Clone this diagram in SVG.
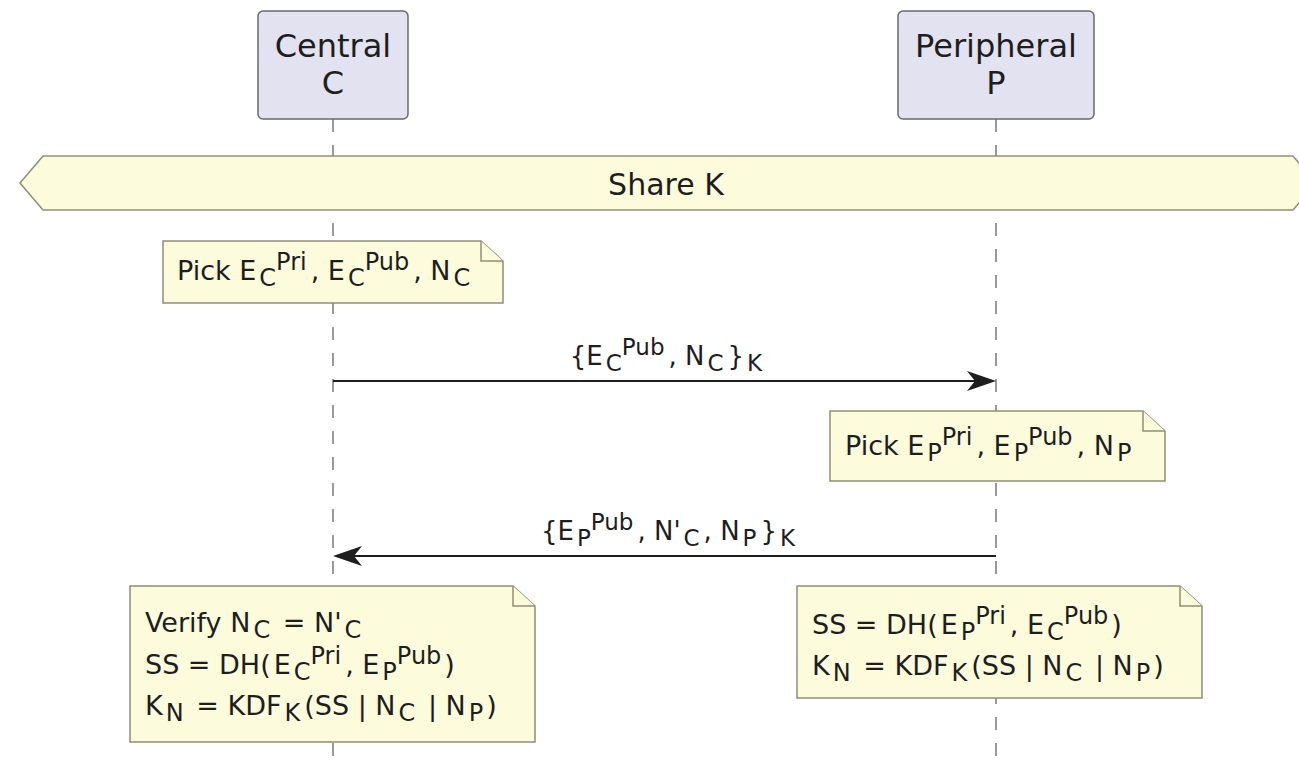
<svg xmlns="http://www.w3.org/2000/svg" width="1299" height="763" viewBox="0 0 1299 763">
  <style>
    text { font-family: "DejaVu Sans", "Liberation Sans", sans-serif; fill: #1e1e1e; }
    .part { fill: #e2e2f0; stroke: #6a6a6a; stroke-width: 1.5; }
    .ptxt { font-size: 32px; text-anchor: middle; }
    .life { stroke: #7a7a7a; stroke-width: 1.5; stroke-dasharray: 13 13; fill: none; }
    .note { fill: #fcfcdc; stroke: #8e8e74; stroke-width: 1.5; }
    .ntxt { font-size: 27px; }
    .s { font-size: 24px; }
    .ltxt { font-size: 26px; text-anchor: middle; }
    .ls { font-size: 23px; }
    .msg { stroke: #1e1e1e; stroke-width: 2; fill: none; }
    .head { fill: #1e1e1e; }
  </style>

  <!-- lifelines -->
  <g id="lifelines">
    <line class="life" x1="333" y1="119" x2="333" y2="763"/>
    <line class="life" x1="996" y1="119" x2="996" y2="763"/>
  </g>

  <!-- participants -->
  <g id="central">
    <rect class="part" x="258" y="11" width="150" height="108" rx="5"/>
    <text class="ptxt" x="333" y="57">Central</text>
    <text class="ptxt" x="333" y="94">C</text>
  </g>
  <g id="peripheral">
    <rect class="part" x="898" y="11" width="196" height="108" rx="5"/>
    <text class="ptxt" x="996" y="57">Peripheral</text>
    <text class="ptxt" x="996" y="94">P</text>
  </g>

  <!-- divider -->
  <g id="share-k">
    <polygon class="note" points="20,183 43,156 1293,156 1316,183 1293,210 43,210"/>
    <text x="666" y="195" style="font-size:30px" text-anchor="middle">Share K</text>
  </g>

  <!-- notes -->
  <g id="note-pick-c">
    <path class="note" d="M163,241 H481 L503,261 V303 H163 Z"/>
    <path class="note" d="M481,241 V261 H503"/>
    <text class="ntxt" x="177" y="280">Pick E<tspan class="s" dx="3" baseline-shift="-6">C</tspan><tspan class="s" baseline-shift="10">Pri</tspan><tspan dx="4">, E</tspan><tspan class="s" dx="3" baseline-shift="-6">C</tspan><tspan class="s" baseline-shift="10">Pub</tspan><tspan dx="4">, N</tspan><tspan class="s" dx="3" baseline-shift="-6">C</tspan></text>
  </g>

  <g id="note-pick-p">
    <path class="note" d="M830,411 H1143 L1165,431 V481 H830 Z"/>
    <path class="note" d="M1143,411 V431 H1165"/>
    <text class="ntxt" x="845" y="455">Pick E<tspan class="s" dx="3" baseline-shift="-6">P</tspan><tspan class="s" baseline-shift="10">Pri</tspan><tspan dx="4">, E</tspan><tspan class="s" dx="3" baseline-shift="-6">P</tspan><tspan class="s" baseline-shift="10">Pub</tspan><tspan dx="4">, N</tspan><tspan class="s" dx="3" baseline-shift="-6">P</tspan></text>
  </g>

  <g id="note-derive-c">
    <path class="note" d="M130,586 H513 L535,606 V742 H130 Z"/>
    <path class="note" d="M513,586 V606 H535"/>
    <text class="ntxt" x="145" y="632">Verify N<tspan class="s" dx="3" baseline-shift="-6">C</tspan><tspan dx="4"> = N'</tspan><tspan class="s" dx="3" baseline-shift="-6">C</tspan></text>
    <text class="ntxt" x="145" y="674">SS = DH(<tspan dx="3">E</tspan><tspan class="s" dx="3" baseline-shift="-6">C</tspan><tspan class="s" baseline-shift="10">Pri</tspan><tspan dx="4">, E</tspan><tspan class="s" dx="3" baseline-shift="-6">P</tspan><tspan class="s" baseline-shift="10">Pub</tspan><tspan dx="3">)</tspan></text>
    <text class="ntxt" x="145" y="715">K<tspan class="s" dx="3" baseline-shift="-6">N</tspan><tspan dx="4"> = KDF</tspan><tspan class="s" dx="3" baseline-shift="-6">K</tspan><tspan dx="4">(SS | N</tspan><tspan class="s" dx="3" baseline-shift="-6">C</tspan><tspan dx="4"> | N</tspan><tspan class="s" dx="3" baseline-shift="-6">P</tspan><tspan dx="3">)</tspan></text>
  </g>

  <g id="note-derive-p">
    <path class="note" d="M797,586 H1180 L1202,606 V698 H797 Z"/>
    <path class="note" d="M1180,586 V606 H1202"/>
    <text class="ntxt" x="812" y="634">SS = DH(<tspan dx="3">E</tspan><tspan class="s" dx="3" baseline-shift="-6">P</tspan><tspan class="s" baseline-shift="10">Pri</tspan><tspan dx="4">, E</tspan><tspan class="s" dx="3" baseline-shift="-6">C</tspan><tspan class="s" baseline-shift="10">Pub</tspan><tspan dx="3">)</tspan></text>
    <text class="ntxt" x="812" y="675">K<tspan class="s" dx="3" baseline-shift="-6">N</tspan><tspan dx="4"> = KDF</tspan><tspan class="s" dx="3" baseline-shift="-6">K</tspan><tspan dx="4">(SS | N</tspan><tspan class="s" dx="3" baseline-shift="-6">C</tspan><tspan dx="4"> | N</tspan><tspan class="s" dx="3" baseline-shift="-6">P</tspan><tspan dx="3">)</tspan></text>
  </g>

  <!-- messages -->
  <g id="connectors">
    <g id="msg-c-to-p">
      <line class="msg" x1="333" y1="381" x2="990" y2="381"/>
      <polygon class="head" points="996,381 967,371 975,381 967,391"/>
      <text class="ltxt" x="666" y="365">{E<tspan class="ls" dx="3" baseline-shift="-6">C</tspan><tspan class="ls" baseline-shift="10">Pub</tspan><tspan dx="4">, N</tspan><tspan class="ls" dx="3" baseline-shift="-6">C</tspan><tspan dx="4">}</tspan><tspan class="ls" dx="3" baseline-shift="-6">K</tspan></text>
    </g>
    <g id="msg-p-to-c">
      <line class="msg" x1="339" y1="556" x2="996" y2="556"/>
      <polygon class="head" points="333,556 362,546 354,556 362,566"/>
      <text class="ltxt" x="668" y="540">{E<tspan class="ls" dx="3" baseline-shift="-6">P</tspan><tspan class="ls" baseline-shift="10">Pub</tspan><tspan dx="4">, N'</tspan><tspan class="ls" dx="3" baseline-shift="-6">C</tspan><tspan dx="4">, N</tspan><tspan class="ls" dx="3" baseline-shift="-6">P</tspan><tspan dx="4">}</tspan><tspan class="ls" dx="3" baseline-shift="-6">K</tspan></text>
    </g>
  </g>
</svg>
